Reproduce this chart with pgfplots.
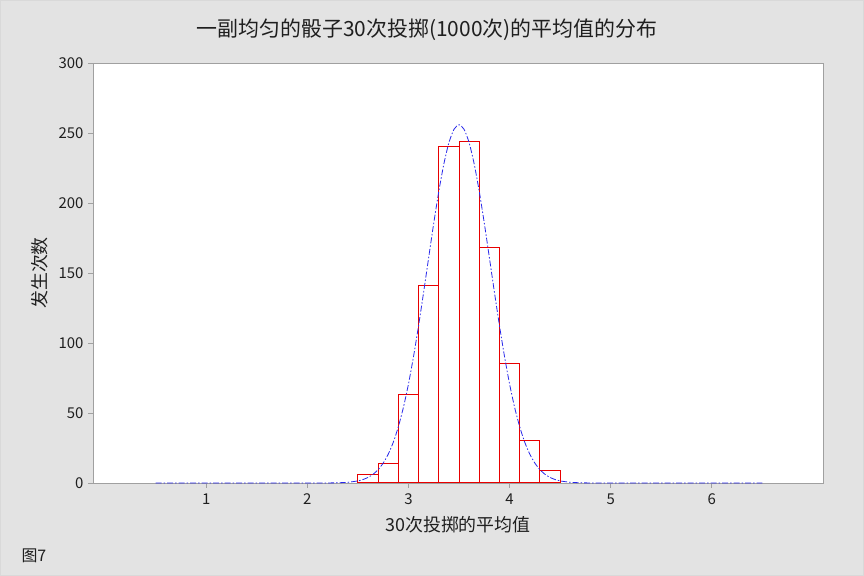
\documentclass[border=0pt]{standalone}
\usepackage{fontspec}
\setmainfont{Noto Sans CJK SC}
\usepackage{pgfplots}
\pgfplotsset{compat=1.18}
\definecolor{bg}{RGB}{227,227,227}
\definecolor{axgray}{RGB}{160,160,160}
\definecolor{barred}{RGB}{232,0,0}
\definecolor{curveblue}{RGB}{40,40,235}
\begin{document}
\begin{tikzpicture}[x=1bp,y=1bp]
\fill[bg] (0,0) rectangle (864,576);
\draw[color=black!15, line width=0.8bp] (0.4,0.4) rectangle (863.6,575.6);
\begin{axis}[
  at={(93bp,93bp)}, anchor=south west,
  scale only axis, width=730bp, height=420bp,
  xmin=-0.12, xmax=7.1, ymin=0, ymax=300,
  axis background/.style={fill=white},
  axis line style={axgray, line width=0.8bp},
  xtick={1,2,3,4,5,6},
  ytick={0,50,100,150,200,250,300},
  tick pos=left, tick align=outside,
  major tick length=5bp,
  tick style={axgray, line width=0.8bp},
  /pgf/number format/assume math mode=true,
  ticklabel style={font=\fontsize{15}{17}\selectfont, text=black!88},
  xticklabel style={yshift=-2bp},
  yticklabel style={xshift=-1bp},
  xlabel={30次投掷的平均值},
  ylabel={发生次数},
  label style={font=\fontsize{18}{21}\selectfont, text=black!88},
  xlabel style={at={(axis description cs:0.5,-0.1)}, anchor=center},
  ylabel style={at={(axis description cs:-0.0726,0.5)}, anchor=center},
  clip=false,
]
\addplot[ybar interval, draw=barred, fill=white, line width=1bp] coordinates {
(2.5,6) (2.7,14) (2.9,63) (3.1,141) (3.3,240) (3.5,244) (3.7,168) (3.9,85) (4.1,30) (4.3,9) (4.5,0)
};
\addplot[curveblue, line width=0.8bp, dash pattern=on 6bp off 2bp on 1.5bp off 2bp, smooth, tension=0.4] coordinates {
(0.5,0) (1.0,0) (1.5,0) (2.0,0) (2.2,0.04) (2.3,0.16) (2.4,0.51) (2.5,1.49) (2.55,2.47) (2.6,3.97) (2.65,6.23) (2.7,9.52) (2.75,14.2) (2.8,20.6) (2.85,29.1) (2.9,40.2) (2.95,54.0) (3.0,70.7) (3.05,90.3) (3.1,112.4) (3.15,136.3) (3.2,161.1) (3.25,185.6) (3.3,208.3) (3.35,227.9) (3.4,243.1) (3.45,252.6) (3.5,255.9) (3.55,252.6) (3.6,243.1) (3.65,227.9) (3.7,208.3) (3.75,185.6) (3.8,161.1) (3.85,136.3) (3.9,112.4) (3.95,90.3) (4.0,70.7) (4.05,54.0) (4.1,40.2) (4.15,29.1) (4.2,20.6) (4.25,14.2) (4.3,9.52) (4.35,6.23) (4.4,3.97) (4.45,2.47) (4.5,1.49) (4.6,0.51) (4.7,0.16) (4.8,0.04) (5.0,0) (5.5,0) (6.0,0) (6.5,0)
};
\end{axis}
\node[font=\fontsize{21}{24}\selectfont, text=black!88] at (427,546) {一副均匀的骰子30次投掷(1000次)的平均值的分布};
\node[font=\fontsize{16}{18}\selectfont, text=black!88, anchor=west] at (18,20) {图7};
\end{tikzpicture}
\end{document}
